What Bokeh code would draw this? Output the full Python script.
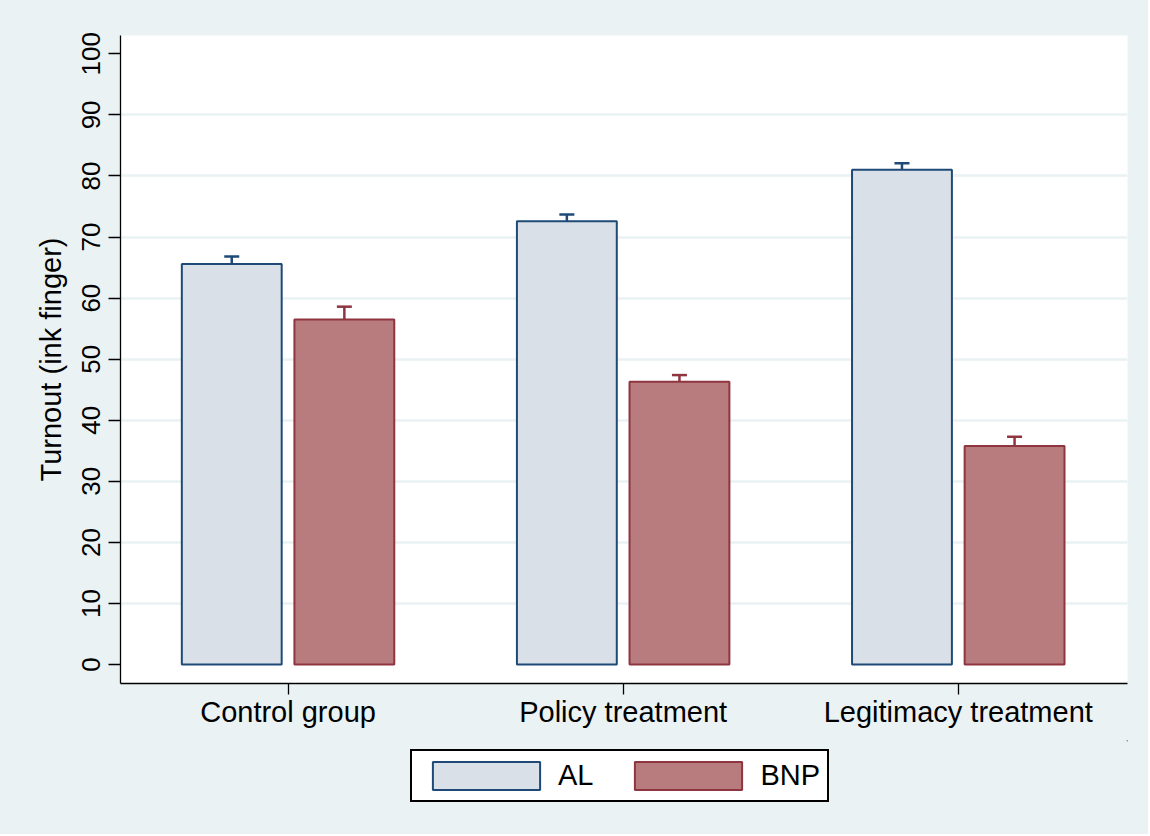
from bokeh.plotting import figure
from bokeh.layouts import column
from bokeh.models import (ColumnDataSource, Range1d, FixedTicker, Whisker, TeeHead,
                          Legend, LegendItem)
from bokeh.transform import dodge
from bokeh.embed import file_html
from bokeh.resources import INLINE

# ---- data ----
categories = ["Control group", "Policy treatment", "Legitimacy treatment"]
al_mean = [65.6, 72.6, 81.0]
al_lo = [64.5, 71.6, 80.2]
al_hi = [66.8, 73.7, 82.1]
bnp_mean = [56.5, 46.3, 35.8]
bnp_lo = [54.5, 45.4, 34.4]
bnp_hi = [58.6, 47.4, 37.3]
y_ticks = [0, 10, 20, 30, 40, 50, 60, 70, 80, 90, 100]
series = ["AL", "BNP"]

BG = "#EAF2F3"
FONT = "Liberation Sans"
AL_FILL, AL_LINE = "#D9E0E8", "#1F4A77"
BNP_FILL, BNP_LINE = "#B87C7E", "#8E3540"

xs = list(range(1, len(categories) + 1))
src = ColumnDataSource(dict(x=xs, al=al_mean, al_lo=al_lo, al_hi=al_hi,
                            bnp=bnp_mean, bnp_lo=bnp_lo, bnp_hi=bnp_hi))

W_TOTAL = 1148
p = figure(width=W_TOTAL, height=740, output_backend="svg", toolbar_location=None,
           x_range=Range1d(0.5, 3.505), y_range=Range1d(-3.1, 103.0),
           min_border_left=120, min_border_right=21, min_border_top=35,
           min_border_bottom=57, styles={"background-color": BG})
p.background_fill_color = "white"
p.border_fill_color = BG
p.outline_line_color = None

OFF = 0.168
W = 0.298
p.vbar(x=dodge("x", -OFF, range=p.x_range), top="al", bottom=0, width=W,
       source=src, fill_color=AL_FILL, line_color=AL_LINE, line_width=2)
p.vbar(x=dodge("x", OFF, range=p.x_range), top="bnp", bottom=0, width=W,
       source=src, fill_color=BNP_FILL, line_color=BNP_LINE, line_width=2)

for off, lo, hi, col in [(-OFF, "al_lo", "al_hi", AL_LINE), (OFF, "bnp_lo", "bnp_hi", BNP_LINE)]:
    w = Whisker(source=src, base=dodge("x", off, range=p.x_range), lower=lo, upper=hi,
                line_color=col, line_width=2.5,
                upper_head=TeeHead(size=15, line_color=col, line_width=2.5),
                lower_head=TeeHead(size=15, line_color=col, line_width=2.5))
    p.add_layout(w)

# axes
p.xaxis.ticker = FixedTicker(ticks=xs)
p.xaxis.major_label_overrides = {x: c for x, c in zip(xs, categories)}
p.yaxis.ticker = FixedTicker(ticks=y_ticks)
p.yaxis.major_label_orientation = "vertical"
p.yaxis.axis_label = "Turnout (ink finger)"
for ax in (p.xaxis[0], p.yaxis[0]):
    ax.axis_line_color = "black"
    ax.axis_line_width = 1.3
    ax.major_tick_line_color = "black"
    ax.major_tick_line_width = 1.3
    ax.major_tick_in = 0
    ax.minor_tick_line_color = None
    ax.major_label_text_font = FONT
    ax.major_label_text_color = "black"
    ax.axis_label_text_font = FONT
    ax.axis_label_text_font_style = "normal"
    ax.axis_label_text_color = "black"
p.xaxis.major_tick_out = 11
p.xaxis.major_label_standoff = 1
p.xaxis.major_label_text_font_size = "29px"
p.yaxis.major_tick_out = 12
p.yaxis.major_label_standoff = 8
p.yaxis.major_label_text_font_size = "26px"
p.yaxis.axis_label_text_font_size = "29px"
p.yaxis.axis_label_standoff = 13

p.xgrid.grid_line_color = None
p.ygrid.ticker = FixedTicker(ticks=y_ticks[1:-1])
p.ygrid.grid_line_color = BG
p.ygrid.grid_line_width = 2.5

# ---- legend strip below the chart ----
q = figure(width=W_TOTAL, height=94, output_backend="svg", toolbar_location=None,
           x_range=Range1d(0, 1), y_range=Range1d(0, 1),
           x_axis_location=None, y_axis_location=None,
           min_border_left=120, min_border_right=21, min_border_top=0, min_border_bottom=0,
           styles={"background-color": BG})
q.background_fill_color = BG
q.border_fill_color = BG
q.outline_line_color = None
q.grid.visible = False
# legend key renderers (their single bar lies outside the visible range)
e_al = q.vbar(x=[5], top=[5], bottom=[4], width=0.1,
              fill_color=AL_FILL, line_color=AL_LINE, line_width=2)
e_bnp = q.vbar(x=[5], top=[5], bottom=[4], width=0.1,
               fill_color=BNP_FILL, line_color=BNP_LINE, line_width=2)

legend = Legend(items=[LegendItem(label=series[0], renderers=[e_al]),
                       LegendItem(label=series[1], renderers=[e_bnp])],
                orientation="horizontal", location=(290, 32),
                glyph_width=134, glyph_height=35, label_standoff=5, spacing=28,
                padding=7, margin=0,
                label_text_font=FONT, label_text_font_size="29px",
                label_text_color="black",
                border_line_color="black", border_line_width=2, border_line_alpha=1.0,
                background_fill_color="white", background_fill_alpha=1.0)
q.add_layout(legend, "center")

layout = column(p, q, spacing=0, styles={"background-color": BG})
open("out.html", "w").write(file_html(layout, INLINE))
